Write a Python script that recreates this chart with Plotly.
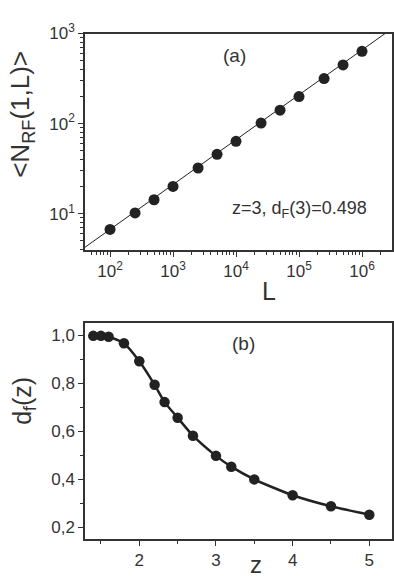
import plotly.graph_objects as go
import numpy as np

# Panel (a) data
L_vals = [1e2, 2.5e2, 5e2, 1e3, 2.5e3, 5e3, 1e4, 2.5e4, 5e4, 1e5, 2.5e5, 5e5, 1e6]
N_vals = [6.7, 10.2, 14.3, 20.1, 32.2, 45.7, 63.7, 101.6, 141, 200, 316, 448, 635]
fit_exponent = 0.498
fit_prefactor = 0.676
fit_L_span = [10, 1e7]
x_tickvals = [1e2, 1e3, 1e4, 1e5, 1e6]
x_ticktext = ["10<sup>2</sup>", "10<sup>3</sup>", "10<sup>4</sup>", "10<sup>5</sup>", "10<sup>6</sup>"]
y_tickvals = [1e1, 1e2, 1e3]
y_ticktext = ["10<sup>1</sup>", "10<sup>2</sup>", "10<sup>3</sup>"]

# Panel (b) data
z_vals = [1.4, 1.5, 1.6, 1.8, 2.0, 2.2, 2.33, 2.5, 2.7, 3.0, 3.2, 3.5, 4.0, 4.5, 5.0]
df_vals = [0.997, 0.997, 0.993, 0.966, 0.891, 0.793, 0.721, 0.656, 0.581, 0.497, 0.452, 0.399, 0.333, 0.287, 0.252]

W, H = 394, 580
def px_x(x): return x / W
def px_y(y): return 1 - y / H

fit_L = np.array(fit_L_span)
fit_N = fit_prefactor * fit_L ** fit_exponent

fig = go.Figure()
fig.add_trace(go.Scatter(x=fit_L, y=fit_N, mode="lines", line=dict(color="#222", width=1),
                         xaxis="x", yaxis="y", showlegend=False, hoverinfo="skip"))
fig.add_trace(go.Scatter(x=L_vals, y=N_vals, mode="markers",
                         marker=dict(size=11, color="#222"), xaxis="x", yaxis="y",
                         showlegend=False, cliponaxis=False))
fig.add_trace(go.Scatter(x=z_vals, y=df_vals, mode="lines+markers",
                         line=dict(color="#222", width=2.5, shape="spline", smoothing=0.6),
                         marker=dict(size=10.5, color="#222"), xaxis="x2", yaxis="y2",
                         showlegend=False, cliponaxis=False))

font = "Liberation Sans, Arial"
axis_common = dict(showline=True, linecolor="#333", linewidth=1.5, mirror=True,
                   ticks="outside", ticklen=5, tickcolor="#333", tickwidth=1.2,
                   showgrid=False, zeroline=False,
                   tickfont=dict(family=font, size=17, color="#333"))
minor_log = dict(ticks="outside", ticklen=3, tickcolor="#333", dtick="D1")

fig.update_layout(
    width=W, height=H, margin=dict(l=0, r=0, t=0, b=0),
    plot_bgcolor="white", paper_bgcolor="white", separators=",.",
    xaxis=dict(type="log", range=[1.603, 6.476], domain=[px_x(85), px_x(392)], anchor="y",
               tickmode="array", tickvals=x_tickvals, ticktext=x_ticktext,
               minor=minor_log, **axis_common),
    yaxis=dict(type="log", range=[0.598, 3.0], domain=[px_y(243), px_y(22)], anchor="x",
               tickmode="array", tickvals=y_tickvals, ticktext=y_ticktext,
               minor=minor_log, **axis_common),
    xaxis2=dict(range=[1.292, 5.296], domain=[px_x(85), px_x(392)], anchor="y2",
                dtick=1, tick0=0,
                minor=dict(ticks="outside", ticklen=3, tickcolor="#333", dtick=0.5),
                **axis_common),
    yaxis2=dict(range=[0.15, 1.05], domain=[px_y(538.3), px_y(317.7)], anchor="x2",
                dtick=0.2, tick0=0, tickformat=".1f",
                minor=dict(ticks="outside", ticklen=3, tickcolor="#333", dtick=0.1),
                **axis_common),
)

ann = [
    dict(text="&lt;N<sub>RF</sub>(1,L)&gt;", x=px_x(22), y=px_y(105), textangle=-90, size=26),
    dict(text="L", x=px_x(269), y=px_y(285), size=25),
    dict(text="(a)", x=px_x(235), y=px_y(44), size=19),
    dict(text="z=3, d<sub>F</sub>(3)=0.498", x=px_x(299), y=px_y(202), size=18),
    dict(text="d<sub>f</sub>(z)", x=px_x(24), y=px_y(397), textangle=-90, size=25),
    dict(text="z", x=px_x(256), y=px_y(564), size=24),
    dict(text="(b)", x=px_x(243), y=px_y(339), size=19),
]
for a in ann:
    fig.add_annotation(text=a["text"], x=a["x"], y=a["y"], xref="paper", yref="paper",
                       showarrow=False, textangle=a.get("textangle", 0),
                       font=dict(family=font, size=a["size"], color="#333"),
                       xanchor="center", yanchor="middle")

fig.write_html("out.html")
